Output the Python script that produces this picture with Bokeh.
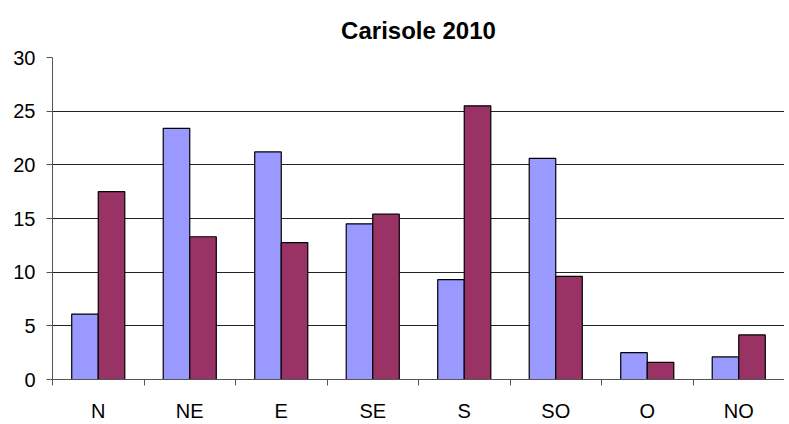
from bokeh.plotting import figure
from bokeh.models import ColumnDataSource, FixedTicker, Range1d
from bokeh.embed import file_html
from bokeh.resources import INLINE

categories = ["N", "NE", "E", "SE", "S", "SO", "O", "NO"]
series_a = [6.1, 23.4, 21.2, 14.5, 9.3, 20.6, 2.5, 2.1]
series_b = [17.5, 13.3, 12.75, 15.4, 25.5, 9.6, 1.6, 4.15]
y_ticks = [0, 5, 10, 15, 20, 25, 30]

n = len(categories)
centers = [i + 0.5 for i in range(n)]
bw = 0.29

src = ColumnDataSource(dict(
    xa=[c - bw / 2 for c in centers],
    xb=[c + bw / 2 for c in centers],
    a=series_a, b=series_b, cat=categories))

p = figure(width=784, height=424, output_backend="svg", toolbar_location=None,
           x_range=Range1d(0, n), y_range=Range1d(0, 30),
           min_border_left=52, min_border_right=0, min_border_bottom=44,
           min_border_top=57)
p.title.text = "Carisole 2010"
p.title.text_font = "Liberation Sans"
p.title.text_font_size = "24px"
p.title.text_font_style = "bold"
p.title.align = "center"
p.title.text_color = "black"
p.title.offset = 6
p.title.standoff = 24
p.title.vertical_align = "top"

p.vbar(x="xa", top="a", width=bw, bottom=0, source=src,
       fill_color="#9999FF", line_color="black", line_width=1.2)
p.vbar(x="xb", top="b", width=bw, bottom=0, source=src,
       fill_color="#993366", line_color="black", line_width=1.2)

p.outline_line_color = None
p.xgrid.grid_line_color = None
p.ygrid.grid_line_color = "#222222"
p.ygrid.grid_line_width = 1
p.ygrid.ticker = FixedTicker(ticks=y_ticks)

p.xaxis.ticker = FixedTicker(ticks=centers, minor_ticks=list(range(n + 1)))
p.xaxis.major_label_overrides = {c: lab for c, lab in zip(centers, categories)}
p.xaxis.major_tick_out = 0
p.xaxis.major_tick_in = 0
p.xaxis.minor_tick_out = 6
p.xaxis.minor_tick_in = 0
p.xaxis.major_label_standoff = 14

p.yaxis.ticker = FixedTicker(ticks=y_ticks)
p.yaxis.major_tick_out = 6
p.yaxis.major_tick_in = 0
p.yaxis.minor_tick_out = 0
p.yaxis.minor_tick_in = 0
p.yaxis.major_label_standoff = 11

for ax in (p.xaxis, p.yaxis):
    ax.axis_line_color = "#555555"
    ax.major_tick_line_color = "#555555"
    ax.minor_tick_line_color = "#555555"
    ax.major_label_text_font = "Liberation Sans"
    ax.major_label_text_font_size = "20px"
    ax.major_label_text_color = "black"

open("out.html", "w").write(file_html(p, INLINE))
